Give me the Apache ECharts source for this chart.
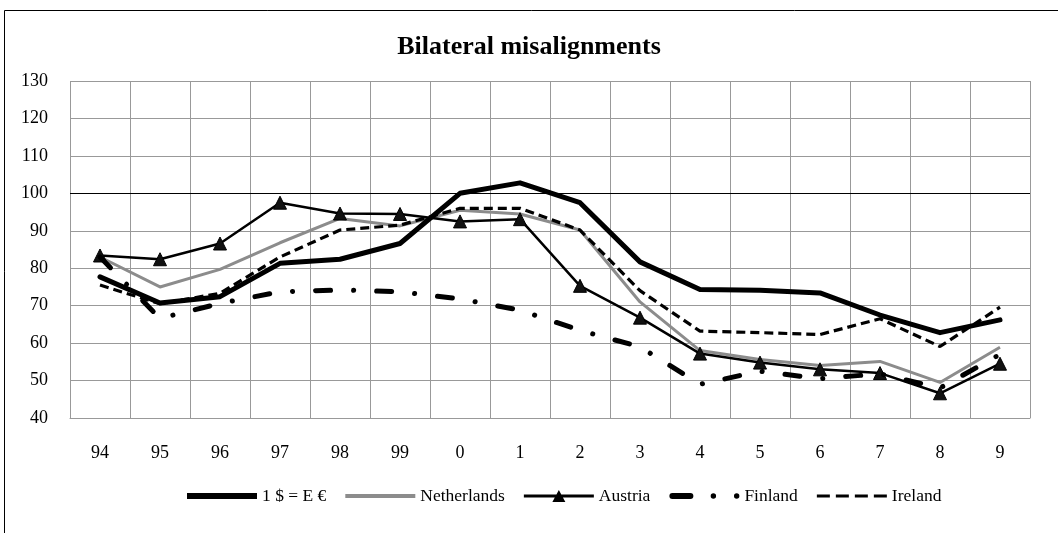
<!DOCTYPE html>
<html>
<head>
<meta charset="utf-8">
<script src="https://cdn.jsdelivr.net/npm/echarts@6/dist/echarts.min.js"></script>
<style>
html,body{margin:0;padding:0;background:#fff;}
#chart{width:1058px;height:533px;}
</style>
</head>
<body>
<div id="chart"></div>
<script>
const categories = ['94','95','96','97','98','99','0','1','2','3','4','5','6','7','8','9'];
const usdEur     = [77.7, 70.7, 72.4, 81.3, 82.4, 86.6, 100.0, 102.8, 97.5, 81.7, 74.3, 74.1, 73.4, 67.5, 62.8, 66.2];
const netherlands= [83.0, 75.0, 79.7, 86.8, 93.3, 91.3, 95.5, 94.5, 90.2, 71.0, 58.0, 55.6, 54.0, 55.1, 49.5, 58.9];
const austria    = [83.4, 82.4, 86.6, 97.5, 94.6, 94.5, 92.5, 93.1, 75.3, 66.8, 57.2, 54.8, 53.0, 52.0, 46.6, 54.5];
const finland    = [83.0, 66.6, 70.6, 73.7, 74.2, 73.7, 71.8, 68.8, 63.4, 59.0, 49.0, 52.5, 50.5, 51.8, 48.0, 57.0];
const ireland    = [75.5, 70.5, 73.3, 83.0, 90.2, 91.5, 96.0, 96.0, 90.2, 74.0, 63.2, 62.8, 62.3, 66.5, 59.1, 69.6];
const seriesNames = ['1 $ = E €', 'Netherlands', 'Austria', 'Finland', 'Ireland'];
const yTicks = {min: 40, max: 130, step: 10};
const refLevel = 100;

const FONT = '"Liberation Serif", "Times New Roman", serif';

// legend icons (70 x 14 box)
const iconThick = 'path://M0,4 H70 V10 H0 Z';
const iconGray  = 'path://M0,5 H70 V9 H0 Z';
const iconTri   = 'path://M35,1 L41.5,13 L28.5,13 Z M0,5.5 H70 V8.5 H0 Z';
const iconFin   = 'path://M3,4 H21 A3,3 0 0,1 21,10 H3 A3,3 0 0,1 3,4 Z ' +
                  'M41.3,7 A2.7,2.7 0 1,0 46.7,7 A2.7,2.7 0 1,0 41.3,7 Z ' +
                  'M64.6,7 A2.7,2.7 0 1,0 70,7 A2.7,2.7 0 1,0 64.6,7 Z';
const iconIre   = 'path://M0,5.5 H13 V8.5 H0 Z M19,5.5 H32 V8.5 H19 Z M38,5.5 H51 V8.5 H38 Z M57,5.5 H70 V8.5 H57 Z';

const chart = echarts.init(document.getElementById('chart'), null, {renderer: 'canvas'});
chart.setOption({
  backgroundColor: '#fff',
  animation: false,
  title: {
    text: 'Bilateral misalignments',
    left: 'center',
    top: 29,
    textStyle: {fontFamily: FONT, fontWeight: 'bold', fontSize: 26, color: '#000'}
  },
  graphic: [
    {type: 'line', shape: {x1: 4.5, y1: 10.5, x2: 1058, y2: 10.5}, style: {stroke: '#000', lineWidth: 1}},
    {type: 'line', shape: {x1: 4.5, y1: 10.5, x2: 4.5, y2: 533}, style: {stroke: '#000', lineWidth: 1}}
  ],
  legend: {
    left: 182,
    top: 482,
    itemWidth: 70,
    itemHeight: 14,
    itemGap: 19,
    textStyle: {fontFamily: FONT, fontSize: 17.5, color: '#000'},
    data: [
      {name: seriesNames[0], icon: iconThick, itemStyle: {color: '#000', borderWidth: 0}},
      {name: seriesNames[1], icon: iconGray,  itemStyle: {color: '#8c8c8c', borderWidth: 0}},
      {name: seriesNames[2], icon: iconTri,   itemStyle: {color: '#000', borderWidth: 0}},
      {name: seriesNames[3], icon: iconFin,   itemStyle: {color: '#000', borderWidth: 0}},
      {name: seriesNames[4], icon: iconIre,   itemStyle: {color: '#000', borderWidth: 0}}
    ]
  },
  grid: {left: 70, right: 28, top: 81, bottom: 115, containLabel: false},
  xAxis: {
    type: 'category',
    data: categories,
    boundaryGap: true,
    axisLine: {show: true, lineStyle: {color: '#999', width: 1}},
    axisTick: {show: false},
    splitLine: {show: true, lineStyle: {color: '#999', width: 1}},
    axisLabel: {fontFamily: FONT, fontSize: 18, color: '#000', margin: 26}
  },
  yAxis: {
    type: 'value',
    min: yTicks.min,
    max: yTicks.max,
    interval: yTicks.step,
    axisLine: {show: false},
    axisTick: {show: false},
    splitLine: {show: true, lineStyle: {color: '#999', width: 1}},
    axisLabel: {fontFamily: FONT, fontSize: 18, color: '#000', margin: 22}
  },
  series: [
    {
      name: seriesNames[0], type: 'line', data: usdEur, symbol: 'none',
      lineStyle: {color: '#000', width: 5, cap: 'round', join: 'round'},
      itemStyle: {color: '#000'},
      markLine: {
        silent: true, symbol: 'none', label: {show: false},
        lineStyle: {color: '#000', width: 1, type: 'solid'},
        data: [{yAxis: refLevel}]
      },
      z: 3
    },
    {
      name: seriesNames[1], type: 'line', data: netherlands, symbol: 'none',
      lineStyle: {color: '#8c8c8c', width: 3, join: 'round'},
      itemStyle: {color: '#8c8c8c'},
      z: 2
    },
    {
      name: seriesNames[2], type: 'line', data: austria, symbol: 'triangle', symbolSize: 13,
      lineStyle: {color: '#000', width: 2.5},
      itemStyle: {color: '#111', borderColor: '#000', borderWidth: 1},
      z: 4
    },
    {
      name: seriesNames[3], type: 'line', data: finland, symbol: 'none',
      lineStyle: {color: '#000', width: 5, type: [15, 23, 0.1, 23], cap: 'round'},
      itemStyle: {color: '#000'},
      z: 5
    },
    {
      name: seriesNames[4], type: 'line', data: ireland, symbol: 'none',
      lineStyle: {color: '#000', width: 3.2, type: [9, 5]},
      itemStyle: {color: '#000'},
      z: 5
    }
  ]
});
</script>
</body>
</html>
